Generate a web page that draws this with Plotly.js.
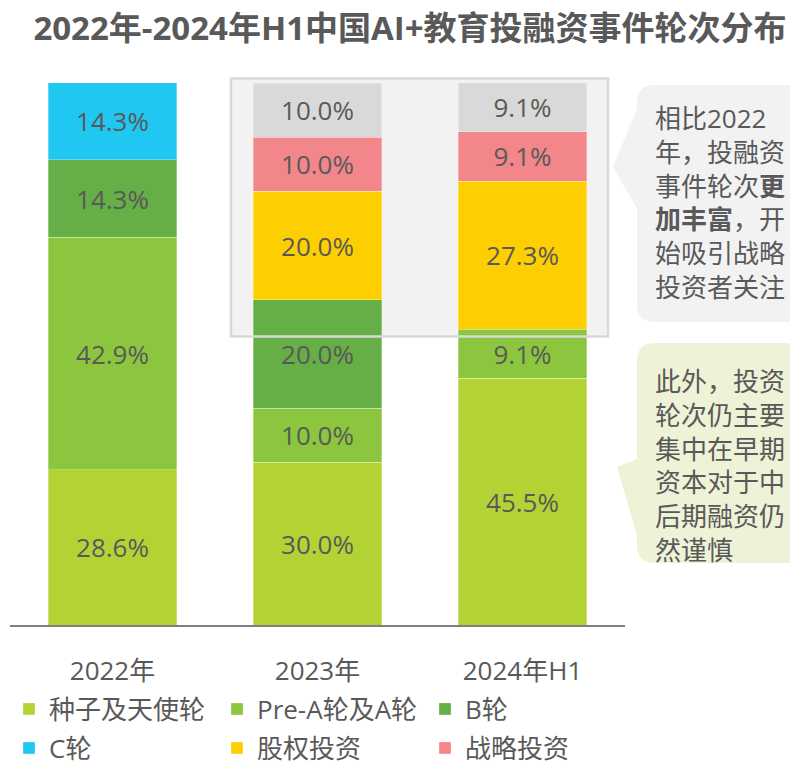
<!DOCTYPE html>
<html>
<head>
<meta charset="utf-8">
<script src="https://cdn.plot.ly/plotly-3.0.1.min.js"></script>
<style>html,body{margin:0;padding:0;background:#fff;}#chart{width:790px;height:768px;}</style>
</head>
<body>
<div id="chart"></div>
<script>
// ---- data ----
var categories = ['2022年', '2023年', '2024年H1'];
var seed      = [28.6, 30.0, 45.5];   // 种子及天使轮
var preA      = [42.9, 10.0, 9.1];    // Pre-A轮及A轮
var roundB    = [14.3, 20.0, null];   // B轮
var roundC    = [14.3, null, null];   // C轮
var equity    = [null, 20.0, 27.3];   // 股权投资
var strategic = [null, 10.0, 9.1];    // 战略投资
var other     = [null, 10.0, 9.1];    // 其他（未列入图例）

var seriesNames = ['种子及天使轮', 'Pre-A轮及A轮', 'B轮', 'C轮', '股权投资', '战略投资', '其他'];
var seriesData = [seed, preA, roundB, roundC, equity, strategic, other];
var seriesColors = ['#b3d335', '#8cc63e', '#66ae46', '#20c8f1', '#fecf00', '#f3868a', '#d9d9d9'];
var seriesLegend = ['legend', 'legend', 'legend', 'legend2', 'legend2', 'legend2', null];

// ---- geometry helpers (pixel -> paper) ----
var W = 790, H = 768;
var ML = 10, MR = 165, MT = 83, MB = 143;
var PW = W - ML - MR, PH = H - MT - MB;
function px(x) { return (x - ML) / PW; }
function py(y) { return (H - MB - y) / PH; }

var FONT = 'Open Sans, "Noto Sans CJK SC", sans-serif';
var TXT = '#595959';

var traces = seriesData.map(function (vals, i) {
  return {
    type: 'bar',
    name: seriesNames[i],
    x: categories,
    y: vals,
    marker: { color: seriesColors[i], line: { color: 'rgba(255,255,255,0.5)', width: 0.6 } },
    text: vals.map(function (v) { return v == null ? '' : v.toFixed(1) + '%'; }),
    texttemplate: '%{text}',
    textposition: 'inside',
    insidetextanchor: 'middle',
    textangle: 0,
    constraintext: 'none',
    textfont: { family: FONT, size: 26, color: TXT },
    hoverinfo: 'x+y+name',
    showlegend: seriesLegend[i] !== null,
    legend: seriesLegend[i] || 'legend'
  };
});

function roundRect(x0, y0, x1, y1, r) {
  var p = [
    'M', px(x0 + r), py(y0),
    'L', px(x1 - r), py(y0),
    'Q', px(x1), py(y0), px(x1), py(y0 + r),
    'L', px(x1), py(y1 - r),
    'Q', px(x1), py(y1), px(x1 - r), py(y1),
    'L', px(x0 + r), py(y1),
    'Q', px(x0), py(y1), px(x0), py(y1 - r),
    'L', px(x0), py(y0 + r),
    'Q', px(x0), py(y0), px(x0 + r), py(y0),
    'Z'
  ];
  return p.join(' ').replace(/ ([\d.\-]+) ([\d.\-]+)/g, ' $1,$2');
}
function tri(a, b, c) {
  return 'M ' + px(a[0]) + ',' + py(a[1]) + ' L ' + px(b[0]) + ',' + py(b[1]) + ' L ' + px(c[0]) + ',' + py(c[1]) + ' Z';
}

var grayFill = '#f2f2f2';
var greenFill = '#eef3d7';

var shapes = [
  // highlight box fill (behind bars)
  { type: 'rect', xref: 'paper', yref: 'paper', x0: px(231), x1: px(608), y0: py(78.5), y1: py(336.5),
    fillcolor: grayFill, line: { width: 0 }, layer: 'below' },
  // highlight box border (above bars)
  { type: 'rect', xref: 'paper', yref: 'paper', x0: px(231), x1: px(608), y0: py(78.5), y1: py(336.5),
    fillcolor: 'rgba(0,0,0,0)', line: { color: '#d9d9d9', width: 2.5 }, layer: 'above' },
  // gray callout
  { type: 'path', xref: 'paper', yref: 'paper', path: roundRect(637, 85, 812, 322, 18),
    fillcolor: grayFill, line: { width: 0 }, layer: 'above' },
  { type: 'path', xref: 'paper', yref: 'paper', path: tri([641, 99], [613, 167], [639, 212]),
    fillcolor: grayFill, line: { width: 0 }, layer: 'above' },
  // green callout
  { type: 'path', xref: 'paper', yref: 'paper', path: roundRect(637, 343, 812, 563, 18),
    fillcolor: greenFill, line: { width: 0 }, layer: 'above' },
  { type: 'path', xref: 'paper', yref: 'paper', path: tri([639, 458], [617, 467], [641, 549]),
    fillcolor: greenFill, line: { width: 0 }, layer: 'above' }
];

var annotations = [
  { xref: 'paper', yref: 'paper', x: px(653), y: py(98), xanchor: 'left', yanchor: 'top', align: 'left',
    showarrow: false, font: { family: FONT, size: 26, color: TXT },
    text: '相比2022<br>年，投融资<br>事件轮次<b>更</b><br><b>加丰富</b>，开<br>始吸引战略<br>投资者关注' },
  { xref: 'paper', yref: 'paper', x: px(653), y: py(361), xanchor: 'left', yanchor: 'top', align: 'left',
    showarrow: false, font: { family: FONT, size: 26, color: TXT },
    text: '此外，投资<br>轮次仍主要<br>集中在早期<br>资本对于中<br>后期融资仍<br>然谨慎' }
];

var legendCommon = {
  orientation: 'h', xanchor: 'left', yanchor: 'middle',
  font: { family: FONT, size: 26, color: TXT },
  bgcolor: 'rgba(0,0,0,0)', borderwidth: 0,
  entrywidth: 163, entrywidthmode: 'pixels', traceorder: 'normal'
};

var layout = {
  width: W, height: H,
  margin: { l: ML, r: MR, t: MT, b: MB, autoexpand: false },
  paper_bgcolor: '#ffffff',
  plot_bgcolor: 'rgba(0,0,0,0)',
  font: { family: FONT, color: TXT },
  title: {
    text: '<b>2022年-2024年H1中国AI+教育投融资事件轮次分布</b>',
    font: { family: FONT, size: 33, color: TXT },
    xref: 'container', yref: 'container', x: 410 / W, xanchor: 'center', y: 1 - 28 / H, yanchor: 'middle'
  },
  barmode: 'stack',
  bargap: 0.371,
  xaxis: {
    type: 'category', showline: true, linecolor: '#7f7f7f', linewidth: 2, ticks: '', showgrid: false,
    tickfont: { family: FONT, size: 26, color: TXT }, ticklabelstandoff: 22, fixedrange: true
  },
  yaxis: { range: [0, 100], visible: false, showgrid: false, zeroline: false, fixedrange: true },
  legend: Object.assign({}, legendCommon, { x: px(9), y: py(709) }),
  legend2: Object.assign({}, legendCommon, { x: px(9), y: py(748) }),
  shapes: shapes,
  annotations: annotations,
  showlegend: true
};

Plotly.newPlot('chart', traces, layout, { displayModeBar: false, staticPlot: true });
</script>
</body>
</html>
